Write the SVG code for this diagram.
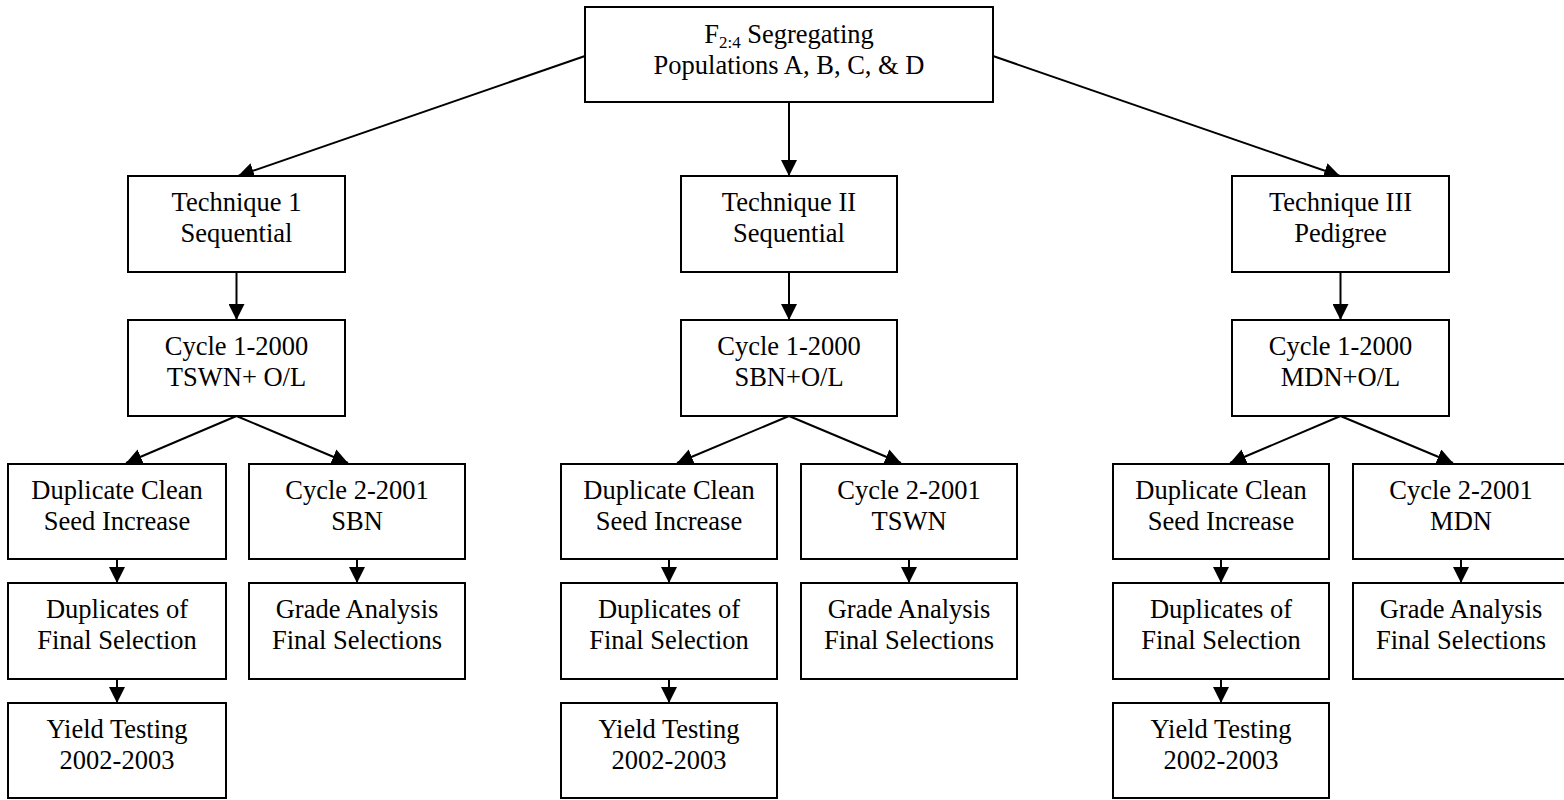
<svg xmlns="http://www.w3.org/2000/svg" width="1564" height="800" viewBox="0 0 1564 800">
<defs>
<style>
.box{fill:#fff;stroke:#000;stroke-width:2}
.t{font-family:"Liberation Serif","Times New Roman",serif;font-size:26.5px;fill:#000;text-anchor:middle}
.c{stroke:#000;stroke-width:2;fill:none;marker-end:url(#ah)}
</style>
<marker id="ah" markerUnits="userSpaceOnUse" markerWidth="17" markerHeight="16" refX="16" refY="8" orient="auto">
<path d="M0,0 L16,8 L0,16 z" fill="#000"/>
</marker>
</defs>
<rect width="1564" height="800" fill="#fff"/>
<g id="connectors">
<line class="c" x1="585" y1="56" x2="238" y2="176"/>
<line class="c" x1="789" y1="102" x2="789" y2="176"/>
<line class="c" x1="993" y1="56" x2="1340" y2="176"/>
<line class="c" x1="236.5" y1="272" x2="236.5" y2="320"/>
<line class="c" x1="789" y1="272" x2="789" y2="320"/>
<line class="c" x1="1340.5" y1="272" x2="1340.5" y2="320"/>
<line class="c" x1="236.5" y1="416" x2="126" y2="463"/>
<line class="c" x1="236.5" y1="416" x2="348" y2="463"/>
<line class="c" x1="789" y1="416" x2="677" y2="463"/>
<line class="c" x1="789" y1="416" x2="901" y2="463"/>
<line class="c" x1="1340.5" y1="416" x2="1230" y2="463"/>
<line class="c" x1="1340.5" y1="416" x2="1453" y2="463"/>
<line class="c" x1="117" y1="559" x2="117" y2="583"/>
<line class="c" x1="357" y1="559" x2="357" y2="583"/>
<line class="c" x1="669" y1="559" x2="669" y2="583"/>
<line class="c" x1="909" y1="559" x2="909" y2="583"/>
<line class="c" x1="1221" y1="559" x2="1221" y2="583"/>
<line class="c" x1="1461" y1="559" x2="1461" y2="583"/>
<line class="c" x1="117" y1="679" x2="117" y2="703"/>
<line class="c" x1="669" y1="679" x2="669" y2="703"/>
<line class="c" x1="1221" y1="679" x2="1221" y2="703"/>
</g>
<g id="top">
<rect class="box" x="585" y="7" width="408" height="95"/>
<text class="t" x="789" y="43">F<tspan font-size="17" dy="5">2:4</tspan><tspan dy="-5"> Segregating</tspan></text>
<text class="t" x="789" y="74">Populations A, B, C, &amp; D</text>
</g>
<g id="tech1">
<rect class="box" x="128" y="176" width="217" height="96"/>
<text class="t" x="236.5" y="211">Technique 1</text>
<text class="t" x="236.5" y="242">Sequential</text>
</g>
<g id="tech2">
<rect class="box" x="681" y="176" width="216" height="96"/>
<text class="t" x="789" y="211">Technique II</text>
<text class="t" x="789" y="242">Sequential</text>
</g>
<g id="tech3">
<rect class="box" x="1232" y="176" width="217" height="96"/>
<text class="t" x="1340.5" y="211">Technique III</text>
<text class="t" x="1340.5" y="242">Pedigree</text>
</g>
<g id="cycle1a">
<rect class="box" x="128" y="320" width="217" height="96"/>
<text class="t" x="236.5" y="355">Cycle 1-2000</text>
<text class="t" x="236.5" y="386">TSWN+ O/L</text>
</g>
<g id="cycle1b">
<rect class="box" x="681" y="320" width="216" height="96"/>
<text class="t" x="789" y="355">Cycle 1-2000</text>
<text class="t" x="789" y="386">SBN+O/L</text>
</g>
<g id="cycle1c">
<rect class="box" x="1232" y="320" width="217" height="96"/>
<text class="t" x="1340.5" y="355">Cycle 1-2000</text>
<text class="t" x="1340.5" y="386">MDN+O/L</text>
</g>
<g id="dupclean1">
<rect class="box" x="8" y="464" width="218" height="95"/>
<text class="t" x="117" y="499">Duplicate Clean</text>
<text class="t" x="117" y="530">Seed Increase</text>
</g>
<g id="cycle2a">
<rect class="box" x="249" y="464" width="216" height="95"/>
<text class="t" x="357" y="499">Cycle 2-2001</text>
<text class="t" x="357" y="530">SBN</text>
</g>
<g id="dupclean2">
<rect class="box" x="561" y="464" width="216" height="95"/>
<text class="t" x="669" y="499">Duplicate Clean</text>
<text class="t" x="669" y="530">Seed Increase</text>
</g>
<g id="cycle2b">
<rect class="box" x="801" y="464" width="216" height="95"/>
<text class="t" x="909" y="499">Cycle 2-2001</text>
<text class="t" x="909" y="530">TSWN</text>
</g>
<g id="dupclean3">
<rect class="box" x="1113" y="464" width="216" height="95"/>
<text class="t" x="1221" y="499">Duplicate Clean</text>
<text class="t" x="1221" y="530">Seed Increase</text>
</g>
<g id="cycle2c">
<rect class="box" x="1353" y="464" width="216" height="95"/>
<text class="t" x="1461" y="499">Cycle 2-2001</text>
<text class="t" x="1461" y="530">MDN</text>
</g>
<g id="dupfinal1">
<rect class="box" x="8" y="583" width="218" height="96"/>
<text class="t" x="117" y="618">Duplicates of</text>
<text class="t" x="117" y="649">Final Selection</text>
</g>
<g id="grade1">
<rect class="box" x="249" y="583" width="216" height="96"/>
<text class="t" x="357" y="618">Grade Analysis</text>
<text class="t" x="357" y="649">Final Selections</text>
</g>
<g id="dupfinal2">
<rect class="box" x="561" y="583" width="216" height="96"/>
<text class="t" x="669" y="618">Duplicates of</text>
<text class="t" x="669" y="649">Final Selection</text>
</g>
<g id="grade2">
<rect class="box" x="801" y="583" width="216" height="96"/>
<text class="t" x="909" y="618">Grade Analysis</text>
<text class="t" x="909" y="649">Final Selections</text>
</g>
<g id="dupfinal3">
<rect class="box" x="1113" y="583" width="216" height="96"/>
<text class="t" x="1221" y="618">Duplicates of</text>
<text class="t" x="1221" y="649">Final Selection</text>
</g>
<g id="grade3">
<rect class="box" x="1353" y="583" width="216" height="96"/>
<text class="t" x="1461" y="618">Grade Analysis</text>
<text class="t" x="1461" y="649">Final Selections</text>
</g>
<g id="yield1">
<rect class="box" x="8" y="703" width="218" height="95"/>
<text class="t" x="117" y="738">Yield Testing</text>
<text class="t" x="117" y="769">2002-2003</text>
</g>
<g id="yield2">
<rect class="box" x="561" y="703" width="216" height="95"/>
<text class="t" x="669" y="738">Yield Testing</text>
<text class="t" x="669" y="769">2002-2003</text>
</g>
<g id="yield3">
<rect class="box" x="1113" y="703" width="216" height="95"/>
<text class="t" x="1221" y="738">Yield Testing</text>
<text class="t" x="1221" y="769">2002-2003</text>
</g>
</svg>
